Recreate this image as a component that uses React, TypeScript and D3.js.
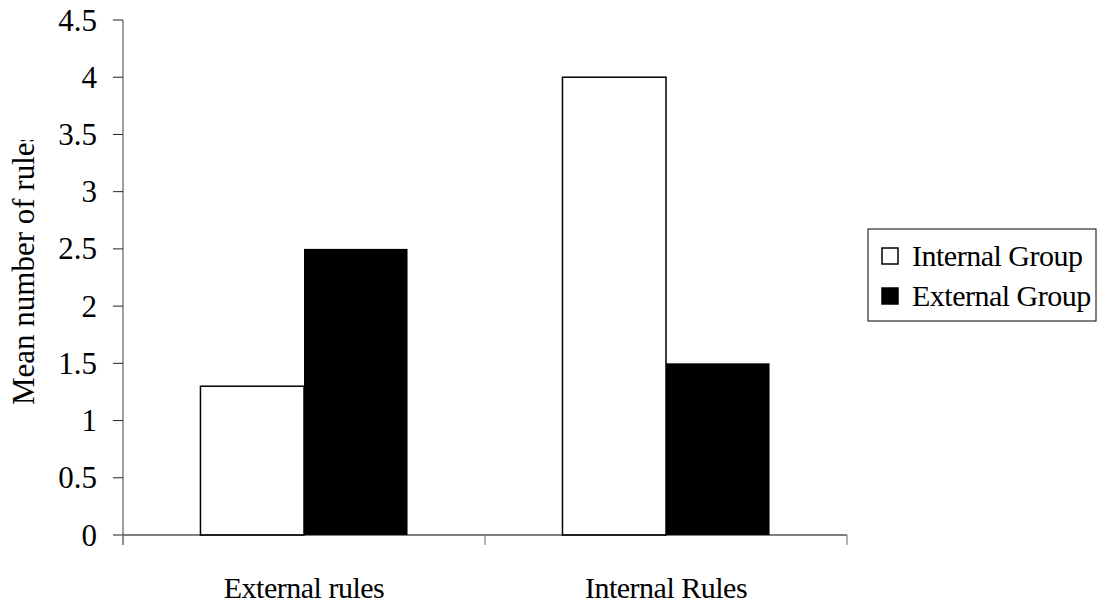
import React from "react";
import * as d3 from "d3";

const categories = ["External rules", "Internal Rules"];
const seriesNames = ["Internal Group", "External Group"];
const internalGroup = [1.3, 4.0];
const externalGroup = [2.5, 1.5];
const yTicks = [0, 0.5, 1, 1.5, 2, 2.5, 3, 3.5, 4, 4.5];
const yTitle = "Mean number of rules";

const W = 1101;
const H = 605;
const FONT = '"Liberation Serif"';

export default function App() {
  const y = d3.scaleLinear().domain([0, 4.5]).range([535, 20]);
  const x0 = d3.scaleBand<string>().domain(categories).range([123, 847]).paddingInner(0).paddingOuter(0);
  const bw = x0.bandwidth();
  const x1 = d3.scaleBand<string>().domain(seriesNames).range([bw * 0.214, bw * 0.786]).padding(0);
  const values = [internalGroup, externalGroup];
  const fills = ["#ffffff", "#000000"];
  const fs = 30;

  return (
    <svg width={W} height={H} style={{ position: "absolute", left: 0, top: 0, background: "#fff" }}>
      <defs>
        <clipPath id="ytclip">
          <rect x={0} y={140} width={60} height={400} />
        </clipPath>
      </defs>
      {categories.map((c, ci) =>
        seriesNames.map((s, si) => {
          const v = values[si][ci];
          const bx = (x0(c) as number) + (x1(s) as number);
          return (
            <rect
              key={c + s}
              x={bx}
              y={y(v)}
              width={x1.bandwidth()}
              height={y(0) - y(v)}
              fill={fills[si]}
              stroke="#000"
              strokeWidth={si === 0 ? 1.5 : 0}
            />
          );
        })
      )}
      <line x1={123} x2={123} y1={y(4.5)} y2={545} stroke="#808080" strokeWidth={1.5} />
      {yTicks.map((t) => (
        <g key={t}>
          <line x1={113} x2={123} y1={y(t)} y2={y(t)} stroke="#222" strokeWidth={1} />
          <text x={97} y={y(t)} dy="0.34em" textAnchor="end" fontSize={31} fill="#000" style={{ fontFamily: FONT }}>
            {String(t)}
          </text>
        </g>
      ))}
      <line x1={123} x2={847} y1={y(0)} y2={y(0)} stroke="#000" strokeWidth={1.2} />
      {[123, ...categories.map((c) => (x0(c) as number) + bw)].map((tx, i) => (
        <line key={i} x1={tx} x2={tx} y1={y(0)} y2={545} stroke="#808080" strokeWidth={1.2} />
      ))}
      {categories.map((c) => (
        <text key={c} x={(x0(c) as number) + bw / 2} y={598} textAnchor="middle" fontSize={fs} fill="#000" style={{ fontFamily: FONT, letterSpacing: "-0.5px" }}>
          {c}
        </text>
      ))}
      <g clipPath="url(#ytclip)">
        <text transform="translate(34,405) rotate(-90)" textAnchor="start" fontSize={31} fill="#000" style={{ fontFamily: FONT }}>
          {yTitle}
        </text>
      </g>
      <rect x={868} y={229} width={228} height={92} fill="#fff" stroke="#000" strokeWidth={1} />
      {seriesNames.map((s, i) => (
        <g key={s}>
          <rect x={882} y={248 + i * 40} width={16} height={16} fill={fills[i]} stroke="#000" strokeWidth={1.5} />
          <text x={912} y={266 + i * 40} fontSize={fs} fill="#000" style={{ fontFamily: FONT, letterSpacing: "-0.5px" }}>
            {s}
          </text>
        </g>
      ))}
    </svg>
  );
}
